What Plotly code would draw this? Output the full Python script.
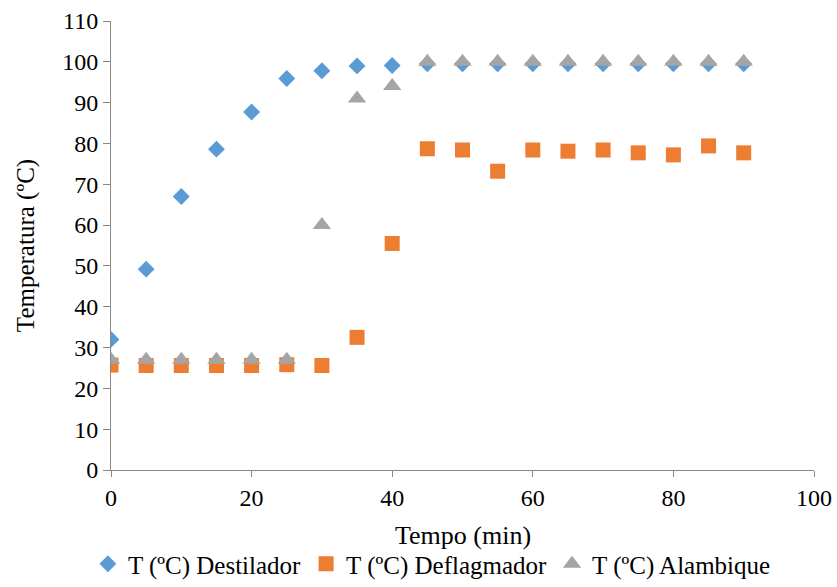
import plotly.graph_objects as go

tempo = [0, 5, 10, 15, 20, 25, 30, 35, 40, 45, 50, 55, 60, 65, 70, 75, 80, 85, 90]
destilador = [32.0, 49.2, 67.0, 78.6, 87.7, 95.9, 97.8, 99.0, 99.1, 99.5, 99.5, 99.5, 99.5, 99.5, 99.5, 99.5, 99.5, 99.5, 99.5]
deflagmador = [25.7, 25.6, 25.6, 25.6, 25.6, 25.8, 25.6, 32.5, 55.5, 78.7, 78.4, 73.2, 78.4, 78.1, 78.4, 77.7, 77.2, 79.4, 77.7]
alambique = [27.0, 27.0, 27.0, 27.0, 27.0, 27.0, 60.0, 91.0, 94.1, 100, 100, 100, 100, 100, 100, 100, 100, 100, 100]

names = ["T (ºC) Destilador", "T (ºC) Deflagmador", "T (ºC) Alambique"]
colors = ["#5B9BD5", "#ED7D31", "#A5A5A5"]
symbols = ["diamond", "square", "triangle-up"]
sizes = [13, 15, 16]
x_title = "Tempo (min)"
y_title = "Temperatura (ºC)"

fig = go.Figure()
for y, n, c, s, sz in zip([destilador, deflagmador, alambique], names, colors, symbols, sizes):
    fig.add_trace(go.Scatter(x=tempo, y=y, mode="markers", name=n,
                             marker=dict(color=c, symbol=s, size=sz, line=dict(width=0))))

ff = "Liberation Serif"
fig.update_layout(
    width=837, height=587,
    margin=dict(l=111, r=23, t=21, b=117),
    paper_bgcolor="white", plot_bgcolor="white",
    font=dict(family=ff, size=24, color="#000"),
    legend=dict(orientation="h", x=0.516, xanchor="center", xref="container",
                y=-0.025, yanchor="bottom", yref="container",
                font=dict(family=ff, size=25, color="#000"), itemwidth=30, tracegroupgap=0),
    xaxis=dict(range=[0, 100], tickvals=[0, 20, 40, 60, 80, 100], showgrid=False, zeroline=False,
               showline=True, linecolor="#888", linewidth=1, ticks="outside", ticklen=6,
               tickcolor="#888", automargin=False,
               tickfont=dict(family=ff, size=24, color="#000")),
    yaxis=dict(range=[0, 110], dtick=10, showgrid=False, zeroline=False,
               showline=True, linecolor="#888", linewidth=1, ticks="outside", ticklen=7,
               tickcolor="#888", automargin=False,
               title=dict(text=y_title, standoff=20, font=dict(family=ff, size=25, color="#000")),
               tickfont=dict(family=ff, size=24, color="#000")),
    annotations=[dict(text=x_title, xref="paper", yref="paper", x=0.5, y=-65 / 449,
                      xanchor="center", yanchor="middle", showarrow=False,
                      font=dict(family=ff, size=26, color="#000"))],
)
fig.write_html("out.html")
